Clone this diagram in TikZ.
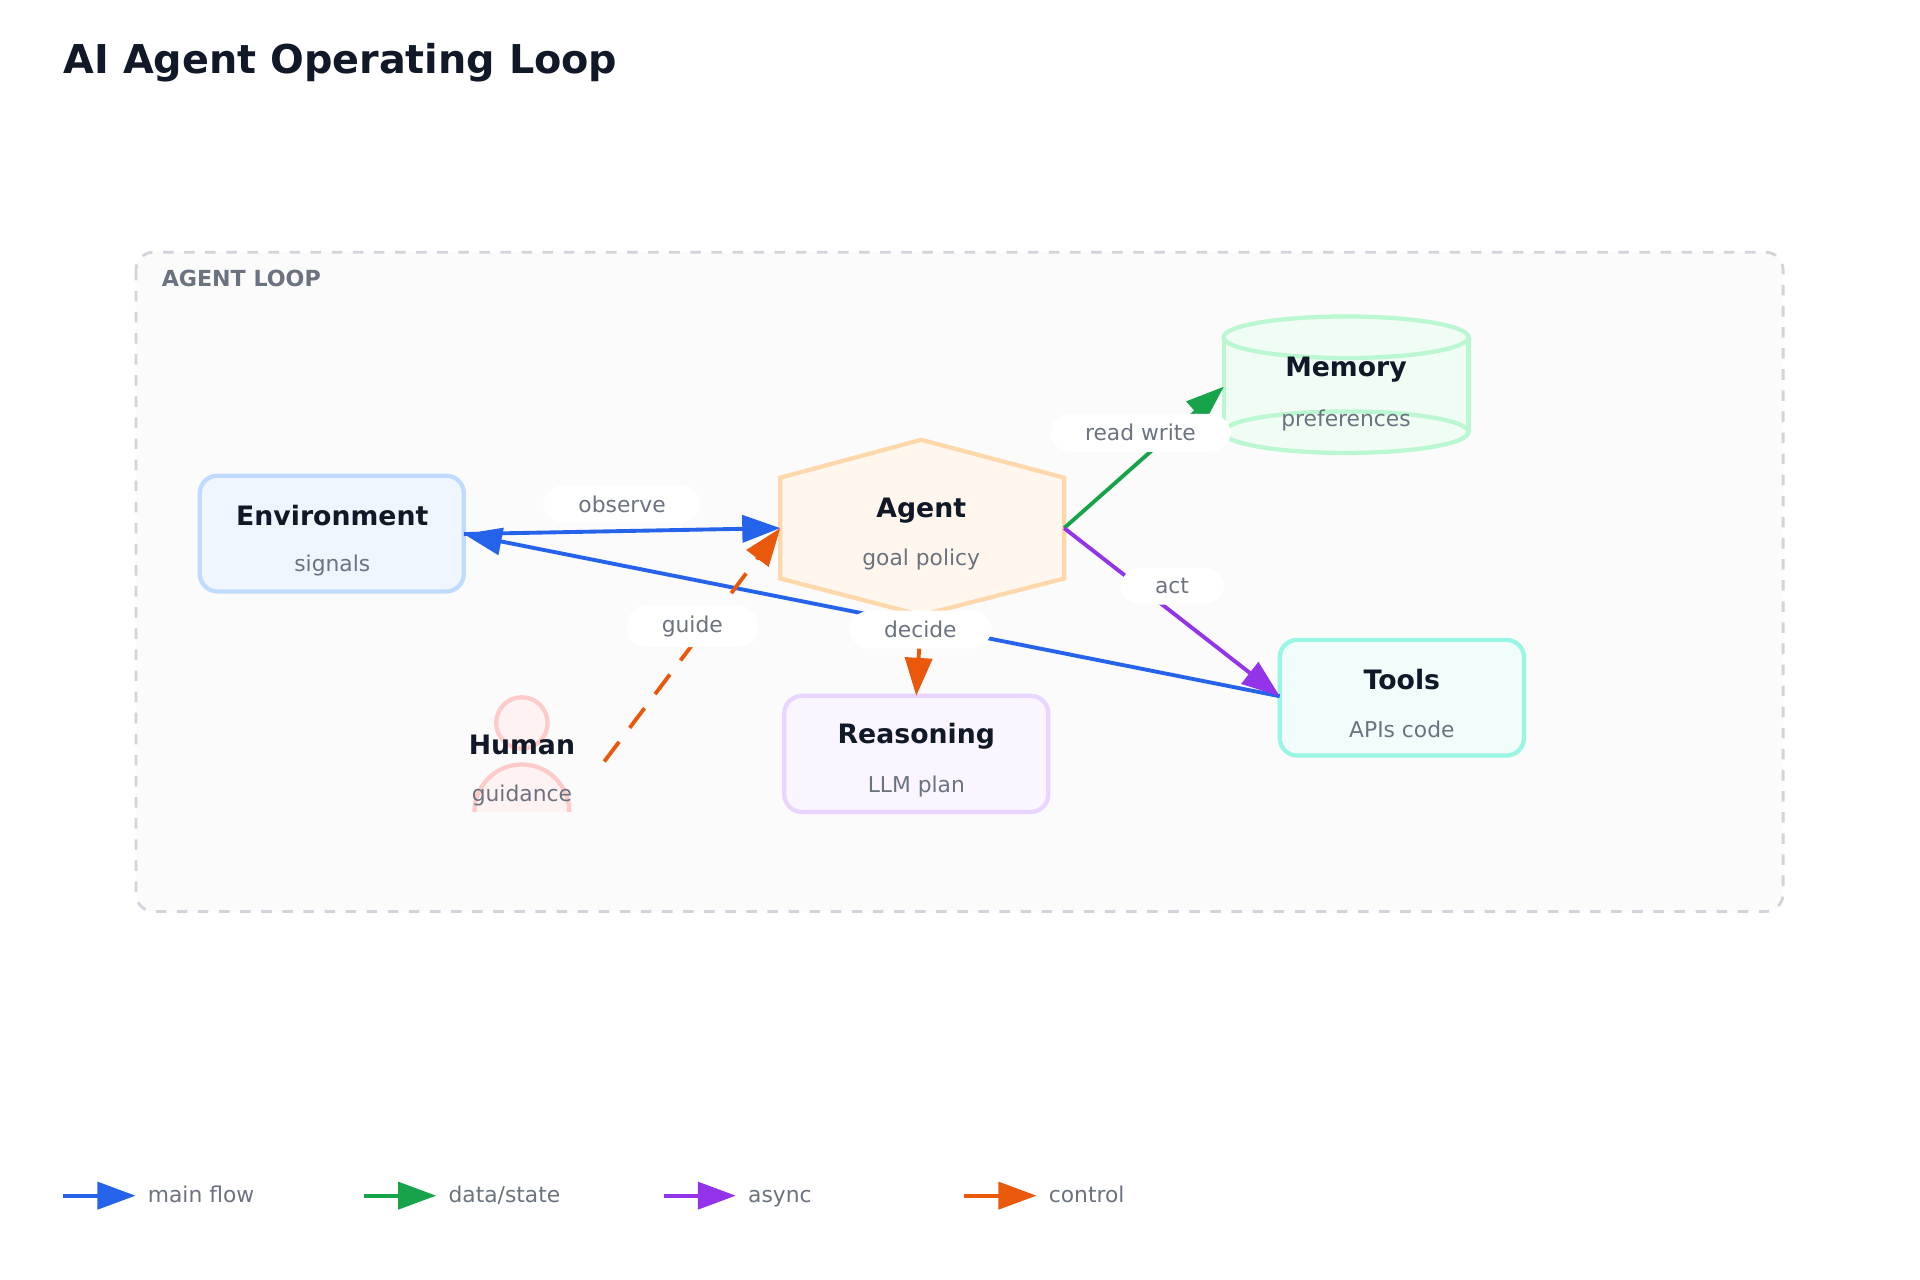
\documentclass[tikz,border=0pt]{standalone}
\usepackage{fontspec}
\setmainfont{DejaVu Sans}
\usetikzlibrary{arrows.meta}
\definecolor{ink}{HTML}{111827}
\definecolor{muted}{HTML}{6B7280}
\definecolor{cblue}{HTML}{2563EB}
\definecolor{cgreen}{HTML}{16A34A}
\definecolor{cpurple}{HTML}{9333EA}
\definecolor{corange}{HTML}{EA580C}
\definecolor{memline}{HTML}{BBF7D0}
\definecolor{memfill}{HTML}{F0FDF4}
\begin{document}
\begin{tikzpicture}[x=0.00989cm, y=-0.00989cm]
\tikzset{ >={Triangle[length=3.8mm,width=2.7mm]}, flow/.style={line width=1.1pt},
  box/.style={rounded corners=5pt, line width=1.2pt},
  ttl/.style={text=ink, font=\fontsize{7.6}{9}\selectfont\bfseries},
  sub/.style={text=muted, font=\fontsize{6.2}{8}\selectfont},
  lbl/.style={fill=white, rounded corners=6pt, text=muted, inner xsep=10pt, inner ysep=3pt, font=\fontsize{6.2}{8}\selectfont},
}

\useasboundingbox [fill=white] (0,0) rectangle (1941.4,1294.2);

\node [anchor=west, text=ink, font=\fontsize{11.3}{14}\selectfont\bfseries] (title) at (52,63) {AI Agent Operating Loop};

% container
\draw [fill={rgb,255:red,250;green,251;blue,250}, draw={rgb,255:red,209;green,213;blue,219}, dashed, line width=0.8pt, rounded corners=5pt] (137.5,255) rectangle (1803,921.6);
\node [anchor=west, text=muted, font=\fontsize{6.3}{8}\selectfont\bfseries] (loop) at (151,282) {AGENT LOOP};

% nodes
\draw [box, fill={rgb,255:red,239;green,246;blue,255}, draw={rgb,255:red,191;green,219;blue,254}] (202,481) rectangle (469,598);
\node [ttl] (env) at (336,521) {Environment};
\node [sub] at (336,572) {signals};

\draw [line width=1.2pt, fill={rgb,255:red,255;green,247;blue,237}, draw={rgb,255:red,254;green,215;blue,170}]
  (931.5,444.7) -- (1076,483) -- (1076,585) -- (931.5,622) -- (789,585) -- (789,483) -- cycle;
\node [ttl] (agent) at (931.5,516.5) {Agent};
\node [sub] at (931.5,566) {goal policy};

\fill [memfill] (1237.5,341) rectangle (1485,437);
\fill [memfill] (1361,437) ellipse [x radius=123.75, y radius=21];
\draw [line width=1.2pt, memline, fill=memfill] (1361,341) ellipse [x radius=123.75, y radius=21];
\draw [line width=1.2pt, memline] (1361,437) ellipse [x radius=123.75, y radius=21];
\draw [line width=1.2pt, memline] (1237.5,341) -- (1237.5,437);
\draw [line width=1.2pt, memline] (1484.75,341) -- (1484.75,437);
\node [ttl] (mem) at (1361,374) {Memory};
\node [sub] at (1361,425) {preferences};

\draw [box, fill={rgb,255:red,240;green,253;blue,250}, draw={rgb,255:red,153;green,246;blue,228}] (1294,647) rectangle (1541,764);
\node [ttl] (tools) at (1417.5,687.5) {Tools};
\node [sub] at (1417.5,738) {APIs code};

\draw [box, fill={rgb,255:red,250;green,245;blue,255}, draw={rgb,255:red,233;green,213;blue,255}] (793,703.6) rectangle (1060,821);
\node [ttl] (reason) at (926.5,744.5) {Reasoning};
\node [sub] at (926.5,795) {LLM plan};

\begin{scope}
\clip (400,680) rectangle (660,821);
\draw [line width=1.2pt, fill={rgb,255:red,254;green,242;blue,242}, draw={rgb,255:red,254;green,202;blue,202}] (527.7,731) circle [radius=26];
\draw [line width=1.2pt, fill={rgb,255:red,254;green,242;blue,242}, draw={rgb,255:red,254;green,202;blue,202}] (527.7,821) circle [radius=48];
\end{scope}
\node [ttl] (human) at (527.7,753) {Human};
\node [sub] at (527.7,804) {guidance};

% anchors
\coordinate (envE) at (469,540);
\coordinate (agentW) at (789,534);
\coordinate (agentE) at (1076,534);
\coordinate (agentS) at (931.5,622);
\coordinate (memW) at (1237.5,391);
\coordinate (toolsW) at (1294,704);
\coordinate (reasonN) at (926.5,703.6);
\coordinate (humanE) at (611,770);

% connectors
\draw [->, flow, cblue] (envE) -- (agentW) node [lbl, pos=0.5, yshift=7.7] {observe};
\draw [->, flow, cblue] (toolsW) -- (envE);
\draw [->, flow, corange, dash pattern=on 7pt off 5pt] (humanE) -- (agentW) node [lbl, pos=0.58, xshift=-4] {guide};
\draw [->, flow, corange] (agentS) -- (reasonN) node [lbl, pos=0.18] {decide};
\draw [->, flow, cgreen] (agentE) -- (memW) node [lbl, pos=0.5, xshift=-1, yshift=7] {read write};
\draw [->, flow, cpurple] (agentE) -- (toolsW) node [lbl, pos=0.5, yshift=7.4] {act};

% legend
\foreach \x/\c/\t in {64/cblue/{main flow}, 368/cgreen/{data/state}, 671/cpurple/{async}, 975/corange/{control}} {
  \draw [->, flow, \c] (\x,1209) -- (\x+73,1209);
  \node [anchor=base west, text=muted, font=\fontsize{6.2}{8}\selectfont] at (\x+73,1216) {\t};
}

\end{tikzpicture}
\end{document}
